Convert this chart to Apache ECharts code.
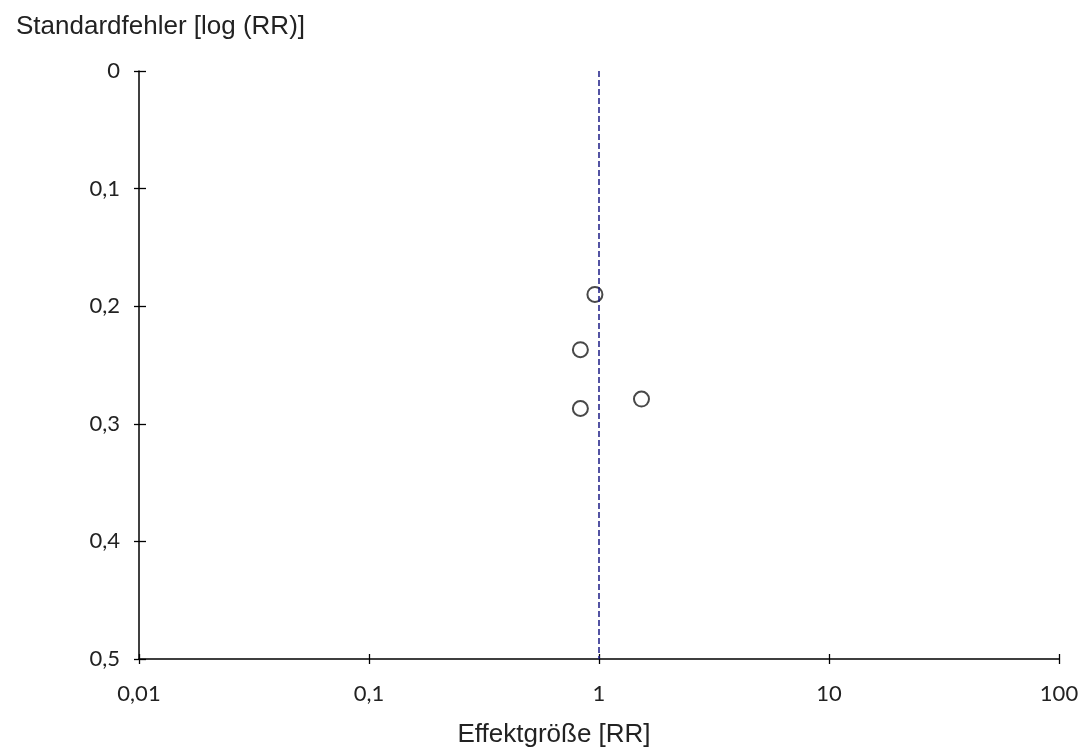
<!DOCTYPE html>
<html>
<head>
<meta charset="utf-8">
<script src="https://cdn.jsdelivr.net/npm/echarts@6/dist/echarts.min.js"></script>
<style>
  html, body { margin: 0; padding: 0; background: #fff; }
  #chart { width: 1082px; height: 754px; }
</style>
</head>
<body>
<div id="chart"></div>
<script>
// Effektgröße (RR) und Standardfehler der Studien
const effectRR = [0.96, 0.83, 0.83, 1.53];
const stdError = [0.19, 0.237, 0.287, 0.279];
// Referenzlinie bei RR = 1
const refLine = [[1, 0], [1, 0.5]];
const xTickLabels = ["0,01", "0,1", "1", "10", "100"];
const yTickLabels = ["0", "0,1", "0,2", "0,3", "0,4", "0,5"];

const chart = echarts.init(document.getElementById("chart"));

const points = effectRR.map((x, i) => [x, stdError[i]]);
const labelFont = { fontFamily: "Lato", fontSize: 22, color: "#222" };
const axisLine = { onZero: false, lineStyle: { color: "#000", width: 1.5 } };
const tickStyle = { color: "#000", width: 1.3 };

function xLabel(v) {
  return xTickLabels[Math.round(Math.log10(v)) + 2];
}
function yLabel(v) {
  return yTickLabels[Math.round(v * 10)];
}

const option = {
  animation: false,
  title: {
    text: "Standardfehler [log (RR)]",
    left: 11,
    top: 9,
    textStyle: { fontFamily: "Liberation Sans", fontSize: 26, fontWeight: "normal", color: "#222" },
  },
  grid: { left: 139, right: 23, top: 71, bottom: 95 },
  xAxis: [
    {
      type: "log",
      logBase: 10,
      min: 0.01,
      max: 100,
      axisLine: axisLine,
      axisTick: { show: true, length: 5, lineStyle: tickStyle },
      minorTick: { show: false },
      splitLine: { show: false },
      axisLabel: Object.assign({ margin: 24, formatter: xLabel }, labelFont),
      name: "Effektgröße [RR]",
      nameLocation: "middle",
      nameGap: 63,
      nameTextStyle: {
        fontFamily: "Liberation Sans",
        fontSize: 26,
        color: "#222",
        padding: [0, 90, 0, 0],
      },
    },
    {
      type: "log",
      logBase: 10,
      min: 0.01,
      max: 100,
      position: "bottom",
      axisLine: { show: false, onZero: false },
      axisTick: { show: true, inside: true, length: 5, lineStyle: tickStyle },
      splitLine: { show: false },
      axisLabel: { show: false },
    },
  ],
  yAxis: [
    {
      type: "value",
      inverse: true,
      min: 0,
      max: 0.5,
      interval: 0.1,
      axisLine: Object.assign({ show: true }, axisLine),
      axisTick: { show: true, length: 5, lineStyle: tickStyle },
      splitLine: { show: false },
      axisLabel: Object.assign({ margin: 19, formatter: yLabel }, labelFont),
    },
    {
      type: "value",
      inverse: true,
      min: 0,
      max: 0.5,
      interval: 0.1,
      position: "left",
      axisLine: { show: false, onZero: false },
      axisTick: { show: true, inside: true, length: 7, lineStyle: tickStyle },
      splitLine: { show: false },
      axisLabel: { show: false },
    },
  ],
  series: [
    {
      type: "line",
      data: refLine,
      symbol: "none",
      lineStyle: { color: "#1a1a85", width: 1.5, type: [6, 3] },
      silent: true,
    },
    {
      type: "scatter",
      data: points,
      symbol: "circle",
      symbolSize: 15,
      itemStyle: { color: "rgba(0,0,0,0)", borderColor: "#1a1a1a", borderWidth: 2 },
    },
  ],
};

chart.setOption(option);
</script>
</body>
</html>
